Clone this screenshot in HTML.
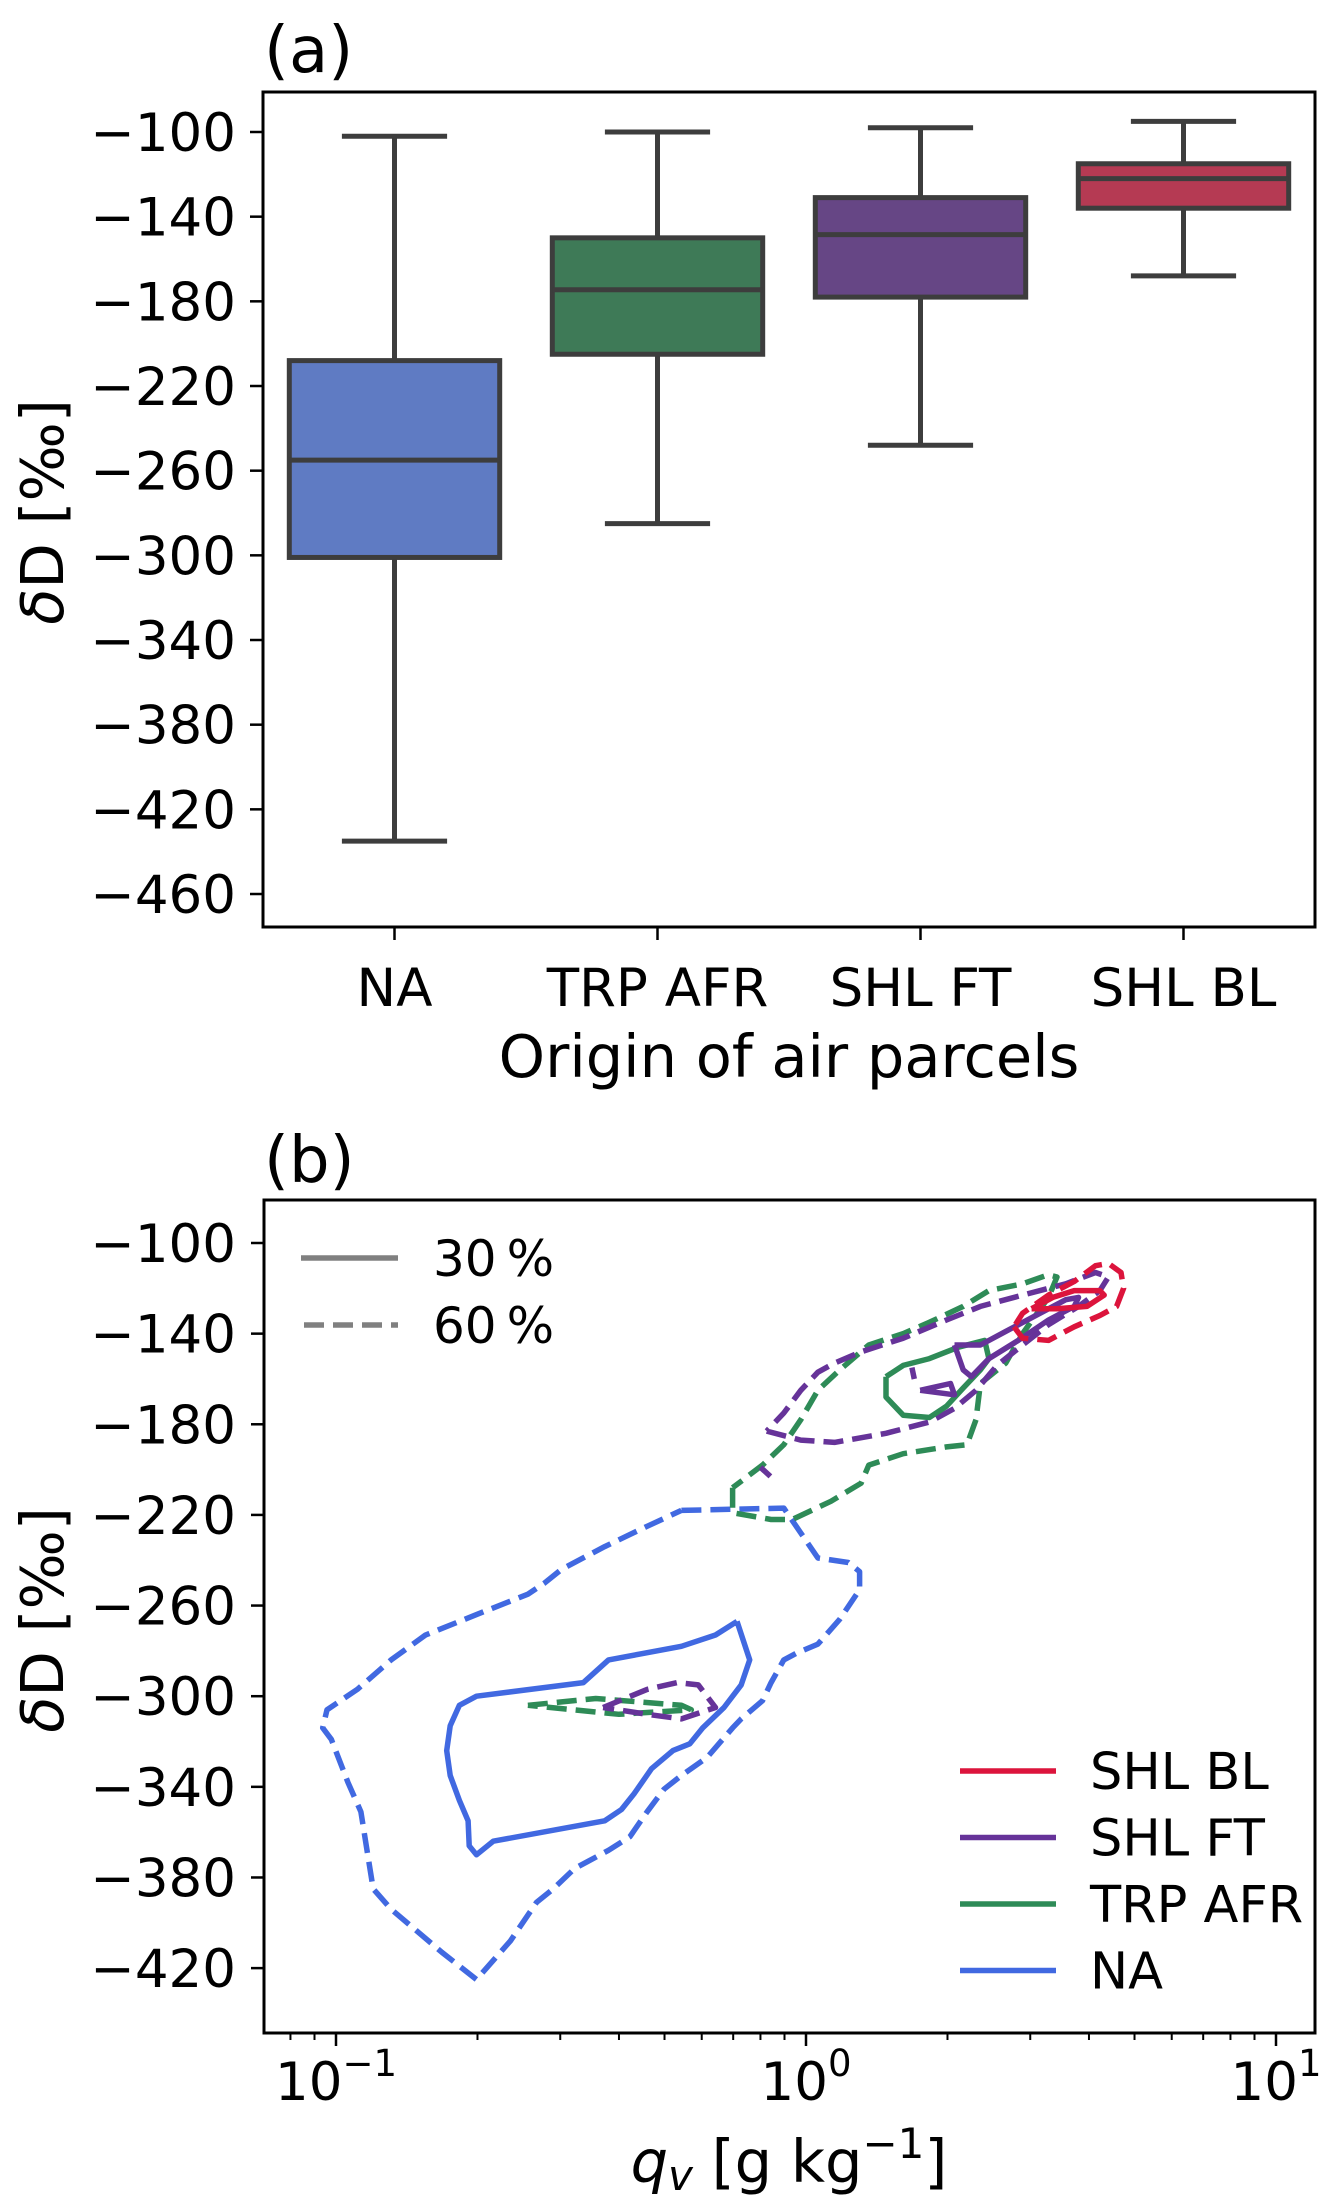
<!DOCTYPE html>
<html><head><meta charset="utf-8"><style>
html,body{margin:0;padding:0;background:#fff;}
svg{display:block;font-family:"DejaVu Sans","Liberation Sans",sans-serif;}
</style></head><body>
<svg id="fig" width="1337" height="2212" viewBox="0 0 1337 2212" xmlns="http://www.w3.org/2000/svg">
<g id="pa"></g>
<g id="pb"></g>
</svg>
<script>
// ---------- Panel (a) data ----------
const categories = ["NA", "TRP AFR", "SHL FT", "SHL BL"];
const whiskerHigh = [-102, -100, -98, -95];
const q3Values = [-208, -150, -131, -115];
const medianValues = [-255, -174.5, -148.5, -122];
const q1Values = [-301, -205, -178, -136];
const whiskerLow = [-435, -285, -248, -168];
const boxColors = ["#5f7bc3", "#3e7a57", "#664685", "#b53a53"];
const yTicksA = [-100, -140, -180, -220, -260, -300, -340, -380, -420, -460];

// ---------- Panel (b) data (q in g/kg, dD in permil) ----------
const naDashed = [[0.543,-218],[0.897,-217],[0.975,-228],[1.06,-239],[1.23,-241],[1.30,-245],[1.30,-253],[1.18,-266],[1.06,-277],[0.955,-281],[0.897,-284],[0.843,-294],[0.808,-302],[0.728,-310],[0.698,-314],[0.616,-327],[0.543,-335],[0.499,-341],[0.459,-351],[0.422,-362],[0.380,-368],[0.343,-373],[0.322,-376],[0.290,-385],[0.267,-391],[0.235,-408],[0.199,-425],[0.168,-413],[0.131,-394],[0.120,-385],[0.116,-366],[0.113,-351],[0.106,-338],[0.0977,-319],[0.0937,-314],[0.0957,-306],[0.111,-297],[0.131,-284],[0.155,-273],[0.199,-264],[0.256,-255],[0.278,-250],[0.302,-244],[0.373,-234],[0.459,-225],[0.543,-218]];
const naSolid = [[0.713,-267],[0.759,-284],[0.728,-295],[0.669,-305],[0.603,-314],[0.566,-321],[0.521,-324],[0.469,-332],[0.431,-343],[0.405,-350],[0.373,-355],[0.216,-364],[0.199,-370],[0.192,-366],[0.191,-355],[0.183,-346],[0.175,-335],[0.172,-324],[0.175,-313],[0.183,-304],[0.199,-300],[0.336,-294],[0.380,-284],[0.543,-278],[0.642,-273],[0.713,-267]];
const trpDashedLow = [[0.256,-304],[0.357,-301],[0.543,-304],[0.57,-306],[0.40,-308],[0.256,-304]];
const shlftDashedLow = [[0.37,-305],[0.459,-297],[0.532,-294],[0.59,-295],[0.642,-305],[0.543,-310],[0.459,-308],[0.37,-305]];
const trpDashed = [[0.698,-208],[0.698,-219],[0.843,-222],[0.935,-222],[1.13,-214],[1.31,-206],[1.36,-198],[1.61,-193],[1.99,-190],[2.20,-189],[2.30,-178],[2.35,-162],[2.66,-153],[2.89,-140],[3.28,-124],[3.42,-115],[3.28,-114],[2.89,-118],[2.45,-121],[2.16,-128],[1.83,-135],[1.61,-140],[1.36,-145],[1.18,-156],[1.06,-165],[0.975,-178],[0.897,-189],[0.808,-198],[0.698,-208]];
const trpSolid = [[1.48,-159],[1.48,-168],[1.61,-176],[1.83,-177],[1.99,-172],[2.16,-164],[2.35,-156],[2.45,-151],[2.40,-143],[2.11,-146],[1.83,-151],[1.61,-154],[1.48,-159]];
const shlftDashed = [[0.825,-183],[0.975,-187],[1.15,-188],[1.48,-184],[1.83,-179],[2.07,-173],[2.30,-165],[2.55,-154],[2.89,-145],[3.28,-136],[3.80,-128],[4.22,-121],[4.40,-115],[4.13,-113],[3.57,-118],[2.89,-123],[2.35,-128],[1.99,-134],[1.61,-142],[1.31,-148],[1.15,-153],[1.06,-157],[0.975,-165],[0.897,-175],[0.825,-183]];
const shlftDashedStub = [[0.80,-199],[0.84,-203]];
const shlftSolid = [[2.07,-145],[2.16,-156],[2.25,-159],[2.45,-151],[2.83,-143],[3.28,-134],[3.72,-128],[3.80,-124],[3.57,-125],[3.15,-131],[2.66,-139],[2.35,-145],[2.07,-145]];
const shlftSolidSmall = [[1.75,-165],[2.03,-162],[2.07,-167],[1.75,-165]];
const shlftSolidDot = [[1.68,-155],[1.70,-160]];
const shlblDashed = [[2.77,-137],[2.89,-142],[3.28,-143],[3.72,-137],[4.22,-132],[4.58,-128],[4.74,-120],[4.68,-113],[4.40,-109],[4.13,-110],[3.72,-117],[3.28,-123],[2.89,-131],[2.77,-137]];
const shlblSolid = [[3.02,-129],[3.42,-129],[3.96,-128],[4.31,-123],[4.22,-121],[3.72,-121],[3.35,-124],[3.02,-129]];
const yTicksB = [-100, -140, -180, -220, -260, -300, -340, -380, -420];
const xDecades = [-1, 0, 1];
const legendNames = ["SHL BL", "SHL FT", "TRP AFR", "NA"];
const legendColors = ["#dc143c", "#663399", "#2e8b57", "#4169e1"];

const NS = "http://www.w3.org/2000/svg";
function mk(parent, tag, attrs, text) {
  const e = document.createElementNS(NS, tag);
  for (const k in attrs) e.setAttribute(k, attrs[k]);
  if (text !== undefined) e.textContent = text;
  parent.appendChild(e);
  return e;
}

// ---------- Panel (a) ----------
const pa = document.getElementById('pa');
const A = {l:263, r:1315, t:92, b:927};
const ya = v => 132 + (-100 - v) * 2.1167;
const band = (A.r - A.l) / categories.length;
const xa = i => A.l + band * (i + 0.5);

let t = mk(pa, 'text', {x:264, y:72, 'font-size':64, fill:'#000'}, '(a)');



categories.forEach((c, i) => {
  const g = mk(pa, 'g', {});
  
  
  const cx = xa(i), bw = band * 0.8, cw = bw / 2;
  const st = {stroke:'#3d3d3d', 'stroke-width':5, fill:'none'};
  mk(g, 'line', Object.assign({x1:cx, x2:cx, y1:ya(whiskerHigh[i]), y2:ya(q3Values[i])}, st));
  mk(g, 'line', Object.assign({x1:cx, x2:cx, y1:ya(q1Values[i]), y2:ya(whiskerLow[i])}, st));
  mk(g, 'line', Object.assign({x1:cx-cw/2, x2:cx+cw/2, y1:ya(whiskerHigh[i]), y2:ya(whiskerHigh[i])}, st));
  mk(g, 'line', Object.assign({x1:cx-cw/2, x2:cx+cw/2, y1:ya(whiskerLow[i]), y2:ya(whiskerLow[i])}, st));
  mk(g, 'rect', {x:cx-bw/2, y:ya(q3Values[i]), width:bw, height:ya(q1Values[i])-ya(q3Values[i]), fill:boxColors[i], stroke:'#3d3d3d', 'stroke-width':5});
  mk(g, 'line', Object.assign({x1:cx-bw/2, x2:cx+bw/2, y1:ya(medianValues[i]), y2:ya(medianValues[i])}, st));
  mk(pa, 'line', {x1:cx, x2:cx, y1:A.b, y2:A.b+13, stroke:'#000', 'stroke-width':2.5});
  const lt = mk(pa, 'text', {x:cx, y:1006, 'font-size':53, 'text-anchor':'middle'}, c);
  
  
});
yTicksA.forEach(v => {
  mk(pa, 'line', {x1:A.l-13, x2:A.l, y1:ya(v), y2:ya(v), stroke:'#000', 'stroke-width':2.5});
  const lt = mk(pa, 'text', {x:236, y:ya(v)+19, 'font-size':53, 'text-anchor':'end'}, '\u2212' + Math.abs(v));
  
  
});
mk(pa, 'rect', {x:A.l, y:A.t, width:A.r-A.l, height:A.b-A.t, fill:'none', stroke:'#000', 'stroke-width':3});
t = mk(pa, 'text', {x:789, y:1077, 'font-size':59, 'text-anchor':'middle'}, 'Origin of air parcels');


t = mk(pa, 'text', {x:0, y:0, 'font-size':59, 'text-anchor':'middle', transform:'translate(63,512) rotate(-90)'});


mk(t, 'tspan', {'font-style':'italic'}, '\u03b4');
mk(t, 'tspan', {}, 'D [\u2030]');

// ---------- Panel (b) ----------
const pb = document.getElementById('pb');
const B = {l:264, r:1315, t:1200, b:2033};
const xb = q => 806 + (Math.log10(q)) * 470;
const yb = v => 1243 + (-100 - v) * 2.266;

t = mk(pb, 'text', {x:264, y:1182, 'font-size':64}, '(b)');



const clip = mk(pb, 'clipPath', {id:'clipb'});
mk(clip, 'rect', {x:B.l, y:B.t, width:B.r-B.l, height:B.b-B.t});
const cg = mk(pb, 'g', {'clip-path':'url(#clipb)'});
function contour(pts, color, dashed, name) {
  const d = pts.map((p, i) => (i ? 'L' : 'M') + xb(p[0]).toFixed(1) + ',' + yb(p[1]).toFixed(1)).join(' ');
  const e = mk(cg, 'path', {d:d, fill:'none', stroke:color, 'stroke-width':5.5, 'stroke-linejoin':'round'});
  if (dashed) e.setAttribute('stroke-dasharray', '20 9');
  
  
}
contour(naDashed, '#4169e1', true, 'na-contour-60');
contour(naSolid, '#4169e1', false, 'na-contour-30');
contour(trpDashedLow, '#2e8b57', true, 'trp-afr-contour-60-low');
contour(shlftDashedLow, '#663399', true, 'shl-ft-contour-60-low');
contour(trpDashed, '#2e8b57', true, 'trp-afr-contour-60');
contour(shlftDashed, '#663399', true, 'shl-ft-contour-60');
contour(shlftDashedStub, '#663399', false, 'shl-ft-contour-60-stub');
contour(trpSolid, '#2e8b57', false, 'trp-afr-contour-30');
contour(shlftSolid, '#663399', false, 'shl-ft-contour-30');
contour(shlftSolidSmall, '#663399', false, 'shl-ft-contour-30-small');
contour(shlftSolidDot, '#663399', false, 'shl-ft-contour-30-dot');
contour(shlblDashed, '#dc143c', true, 'shl-bl-contour-60');
contour(shlblSolid, '#dc143c', false, 'shl-bl-contour-30');

yTicksB.forEach(v => {
  mk(pb, 'line', {x1:B.l-13, x2:B.l, y1:yb(v), y2:yb(v), stroke:'#000', 'stroke-width':2.5});
  const lt = mk(pb, 'text', {x:236, y:yb(v)+19, 'font-size':53, 'text-anchor':'end'}, '\u2212' + Math.abs(v));
  
  
});
for (let dec = -2; dec <= 1; dec++) {
  for (let m = 1; m <= 9; m++) {
    const x = xb(m * Math.pow(10, dec));
    if (x < B.l - 0.5 || x > B.r + 0.5) continue;
    const major = m === 1;
    mk(pb, 'line', {x1:x, x2:x, y1:B.b, y2:B.b + (major ? 13 : 7), stroke:'#000', 'stroke-width':major ? 2.5 : 2});
  }
}
xDecades.forEach(dec => {
  const x = xb(Math.pow(10, dec));
  const lt = mk(pb, 'text', {x:x, y:2100, 'font-size':53, 'text-anchor':'middle'});
  
  
  mk(lt, 'tspan', {}, '10');
  mk(lt, 'tspan', {dy:-24, 'font-size':37}, dec < 0 ? '\u2212' + Math.abs(dec) : String(dec));
});
mk(pb, 'rect', {x:B.l, y:B.t, width:B.r-B.l, height:B.b-B.t, fill:'none', stroke:'#000', 'stroke-width':3});

t = mk(pb, 'text', {x:789, y:2182, 'font-size':59, 'text-anchor':'middle'});


mk(t, 'tspan', {'font-style':'italic'}, 'q');
mk(t, 'tspan', {'font-style':'italic', 'font-size':42, dy:8}, 'v');
mk(t, 'tspan', {dy:-8}, ' [g kg');
mk(t, 'tspan', {'font-size':42, dy:-24}, '\u22121');
mk(t, 'tspan', {dy:24}, ']');
t = mk(pb, 'text', {x:0, y:0, 'font-size':59, 'text-anchor':'middle', transform:'translate(63,1620) rotate(-90)'});


mk(t, 'tspan', {'font-style':'italic'}, '\u03b4');
mk(t, 'tspan', {}, 'D [\u2030]');

// linestyle legend
const lg1 = mk(pb, 'g', {});


mk(lg1, 'line', {x1:301, x2:398, y1:1258, y2:1258, stroke:'#808080', 'stroke-width':5.5});
mk(lg1, 'line', {x1:304, x2:398, y1:1325, y2:1325, stroke:'#808080', 'stroke-width':5.5, 'stroke-dasharray':'20 9'});
mk(lg1, 'text', {x:433, y:1276, 'font-size':50}, '30\u2009%');
mk(lg1, 'text', {x:433, y:1343, 'font-size':50}, '60\u2009%');

// color legend
const lg2 = mk(pb, 'g', {});


legendNames.forEach((n, i) => {
  const y = 1771 + i * 66.5;
  const e = mk(lg2, 'g', {});
  
  
  mk(e, 'line', {x1:960, x2:1056, y1:y, y2:y, stroke:legendColors[i], 'stroke-width':5.5});
  mk(e, 'text', {x:1090, y:y+18, 'font-size':51}, n);
});
</script>
</body></html>
